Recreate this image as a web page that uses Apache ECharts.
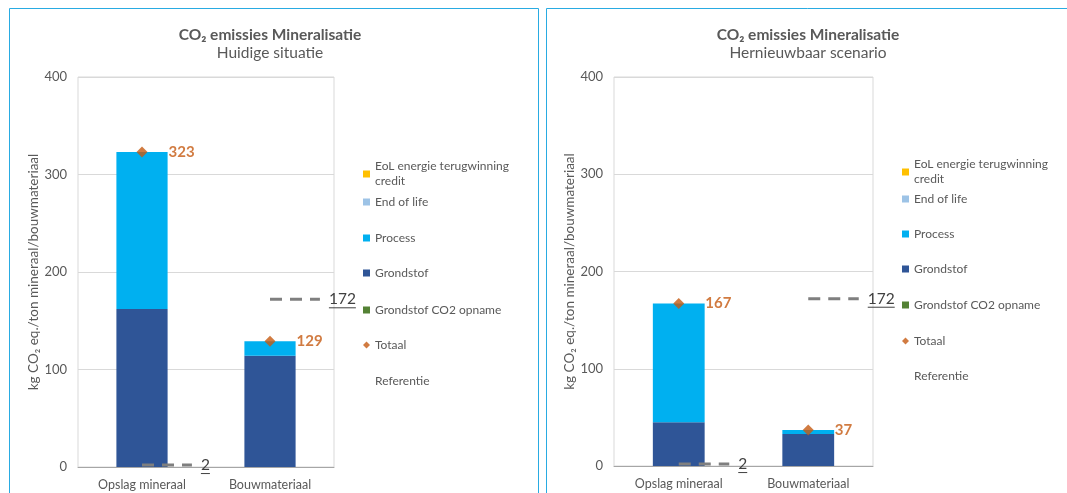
<!DOCTYPE html>
<html><head><meta charset="utf-8">
<script src="https://cdn.jsdelivr.net/npm/echarts@6/dist/echarts.min.js"></script>
<style>html,body{margin:0;padding:0;background:#fff}#c{width:1067px;height:493px}</style>
</head><body><div id="c"></div><script>
// ---------- data ----------
const categories = ['Opslag mineraal', 'Bouwmateriaal'];
const legendNames = ['EoL energie terugwinning credit', 'End of life', 'Process', 'Grondstof', 'Grondstof CO2 opname', 'Totaal', 'Referentie'];
const panelTitle = 'CO₂ emissies Mineralisatie';
const panelSubtitles = ['Huidige situatie', 'Hernieuwbaar scenario'];
const yAxisName = 'kg CO₂ eq./ton mineraal/bouwmateriaal';
const yMin = 0, yMax = 400, yInterval = 100;

// Panel 1: Huidige situatie
const eol1 = [0, 0];
const endOfLife1 = [0, 0];
const process1 = [161, 15];
const grondstof1 = [162, 114];
const co2opname1 = [0, 0];
const totaal1 = [323, 129];
const referentie1 = [2, 172];

// Panel 2: Hernieuwbaar scenario
const eol2 = [0, 0];
const endOfLife2 = [0, 0];
const process2 = [122, 4];
const grondstof2 = [45, 33];
const co2opname2 = [0, 0];
const totaal2 = [167, 37];
const referentie2 = [2, 172];

// ---------- styles ----------
const FONT = 'Lato';
const TXT = '#595959';
const colors = {
  'EoL energie terugwinning credit': '#FFC000',
  'End of life': '#9DC3E6',
  'Process': '#00B0F0',
  'Grondstof': '#2F5597',
  'Grondstof CO2 opname': '#548235',
  'Totaal': '#C55A11',
  'Referentie': '#7F7F7F'
};

const mctx = document.createElement('canvas').getContext('2d');
function measure(t, font) { mctx.font = font; return mctx.measureText(t).width; }

function refRender(params, api) {
  const p = api.coord([api.value(0), api.value(1)]);
  const band = api.size([1, 0])[0];
  const len = band * 0.39;
  const label = String(api.value(1));
  const fs = 15.5;
  const w = measure(label, fs + 'px ' + FONT);
  const tx = p[0] + len + 9;
  return {
    type: 'group',
    children: [
      { type: 'line', shape: { x1: p[0], y1: p[1], x2: p[0] + len, y2: p[1] },
        style: { stroke: colors['Referentie'], lineWidth: 3, lineDash: [12, 8] } },
      { type: 'text', x: tx, y: p[1],
        style: { text: label, fontSize: fs, fontFamily: FONT, fill: '#404040', align: 'left', verticalAlign: 'middle' } },
      { type: 'line', shape: { x1: tx, y1: p[1] + 8.5, x2: tx + w, y2: p[1] + 8.5 },
        style: { stroke: '#404040', lineWidth: 1 } }
    ]
  };
}

function panelSeries(idx, d) {
  const base = { xAxisIndex: idx, yAxisIndex: idx };
  const bar = (name, data) => Object.assign({
    type: 'bar', name, data, stack: 'tot' + idx, barCategoryGap: '60%',
    itemStyle: { color: colors[name] }
  }, base);
  return [
    bar('Grondstof CO2 opname', d.co2),
    bar('Grondstof', d.grond),
    bar('Process', d.proc),
    bar('End of life', d.eolife),
    bar('EoL energie terugwinning credit', d.eol),
    Object.assign({
      type: 'scatter', name: 'Totaal', data: d.tot, symbol: 'diamond', symbolSize: 11, z: 5,
      itemStyle: { color: colors['Totaal'] },
      label: { show: true, position: 'right', distance: 21, color: colors['Totaal'], fontWeight: 'bold', fontSize: 15, fontFamily: FONT }
    }, base),
    Object.assign({
      type: 'custom', name: 'Referentie', renderItem: refRender, clip: false, z: 10,
      itemStyle: { color: colors['Referentie'] },
      encode: { x: 0, y: 1 },
      data: d.ref.map((v, i) => [i, v])
    }, base)
  ];
}

function panelLegends(left, tops) {
  return legendNames.map((name, i) => {
    const item = { name };
    if (name === 'Totaal') item.icon = 'diamond';
    else if (name === 'Referentie') { item.icon = 'rect'; item.itemStyle = { opacity: 0 }; }
    else item.icon = 'rect';
    const isEol = i === 0;
    return {
      orient: 'vertical', left, top: tops[i], data: [item], selectedMode: false,
      itemWidth: 7, itemHeight: 7, itemGap: 0,
      formatter: n => n === 'EoL energie terugwinning credit' ? 'EoL energie terugwinning\ncredit' : n,
      textStyle: Object.assign({ color: TXT, fontSize: 12, fontFamily: FONT, lineHeight: 15 },
        isEol ? { padding: [15, 0, 0, 0] } : {})
    };
  });
}

const grids = [
  { left: 78, top: 77, width: 256, height: 390, show: true, borderColor: '#D9D9D9', borderWidth: 1, containLabel: false },
  { left: 614, top: 77, width: 259, height: 389, show: true, borderColor: '#D9D9D9', borderWidth: 1, containLabel: false }
];

const xAxes = [0, 1].map(i => ({
  type: 'category', gridIndex: i, data: categories,
  axisLine: { lineStyle: { color: '#A6A6A6' } }, axisTick: { show: false },
  axisLabel: { color: TXT, fontSize: 12.5, fontFamily: FONT, margin: 11 }
}));
const yAxes = [0, 1].map(i => ({
  type: 'value', gridIndex: i, min: yMin, max: yMax, interval: yInterval,
  name: yAxisName, nameLocation: 'middle', nameGap: 37, nameRotate: 90,
  nameTextStyle: { color: TXT, fontSize: 13.5, fontFamily: FONT },
  axisLine: { show: false }, axisTick: { show: false },
  axisLabel: { color: TXT, fontSize: 13, fontFamily: FONT, margin: 11 },
  splitLine: { lineStyle: { color: '#D9D9D9' } }
}));

const titleCenters = [265, 803];
const titles = panelSubtitles.map((sub, i) => ({
  text: panelTitle, subtext: sub, left: titleCenters[i], top: 21, textAlign: 'center', itemGap: 0,
  textStyle: { color: TXT, fontSize: 15.5, fontWeight: 'bold', fontFamily: FONT, lineHeight: 18 },
  subtextStyle: { color: TXT, fontSize: 15.5, fontFamily: FONT, lineHeight: 18 }
}));

const option = {
  animation: false,
  backgroundColor: '#fff',
  title: titles,
  grid: grids,
  xAxis: xAxes,
  yAxis: yAxes,
  legend: [].concat(
    panelLegends(358, [146.5, 189.5, 225.5, 260.5, 297.5, 332.5, 368.5]),
    panelLegends(897, [144.5, 186.5, 221.5, 256.5, 292.5, 328.5, 363.5])
  ),
  graphic: [
    { type: 'rect', silent: true, shape: { x: 9.5, y: 8.5, width: 529, height: 520 }, style: { fill: 'none', stroke: '#29ABE2', lineWidth: 1 } },
    { type: 'rect', silent: true, shape: { x: 546.5, y: 8.5, width: 600, height: 520 }, style: { fill: 'none', stroke: '#29ABE2', lineWidth: 1 } }
  ],
  series: [].concat(
    panelSeries(0, { eol: eol1, eolife: endOfLife1, proc: process1, grond: grondstof1, co2: co2opname1, tot: totaal1, ref: referentie1 }),
    panelSeries(1, { eol: eol2, eolife: endOfLife2, proc: process2, grond: grondstof2, co2: co2opname2, tot: totaal2, ref: referentie2 })
  )
};

const chart = echarts.init(document.getElementById('c'), null, { renderer: 'canvas' });
chart.setOption(option);
</script></body></html>
